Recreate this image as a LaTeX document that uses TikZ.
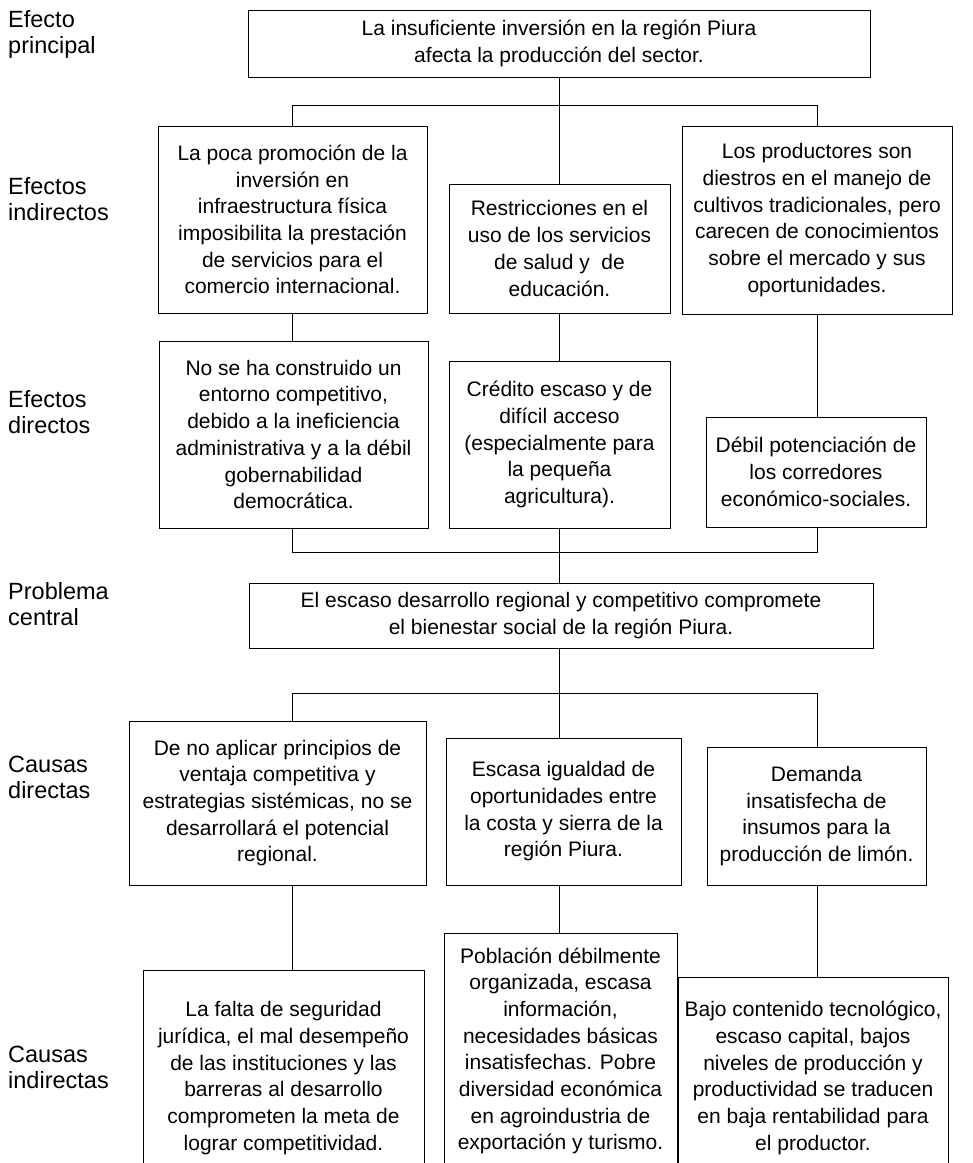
\documentclass[tikz,border=0pt]{standalone}
\usepackage{fontspec}
\setmainfont{Liberation Sans}
\begin{document}
\begin{tikzpicture}[x=1pt,y=-1pt,
  box/.style={draw=black, line width=1pt, inner sep=0pt, align=center,
    font=\fontsize{21pt}{26.7pt}\selectfont},
  txt/.style={inner sep=0pt, align=center, font=\fontsize{21pt}{26.7pt}\selectfont},
  lbl/.style={inner sep=0pt, anchor=west, align=left, font=\fontsize{23.5pt}{26pt}\selectfont},
  conn/.style={draw=black, line width=1pt}]
\useasboundingbox (0,0) rectangle (973,1163);

% left labels
\node[lbl] (L1) at (8,34) {Efecto\\principal};
\node[lbl] (L2) at (8,199) {Efectos\\indirectos};
\node[lbl] (L3) at (8,412) {Efectos\\directos};
\node[lbl] (L4) at (8,604) {Problema\\central};
\node[lbl] (L5) at (8,777) {Causas\\directas};
\node[lbl] (L6) at (8,1067) {Causas\\indirectas};

% main effect
\node[box, minimum width=622pt, minimum height=67pt] (P) at (559,43.5)
  {La insuficiente inversión en la región Piura\\afecta la producción del sector.};

% indirect effects
\node[box, minimum width=269pt, minimum height=187pt] (EI1) at (292.5,219.5)
  {La poca promoción de la\\inversión en\\infraestructura física\\imposibilita la prestación\\de servicios para el\\comercio internacional.};
\node[box, minimum width=221pt, minimum height=129pt] (EI2) at (559.5,248.5)
  {Restricciones en el\\uso de los servicios\\de salud y~ de\\educación.};
\node[box, minimum width=270pt, minimum height=188pt] (EI3) at (817,220)
  {Los productores son\\diestros en el manejo de\\cultivos tradicionales, pero\\carecen de conocimientos\\sobre el mercado y sus\\oportunidades.};

% direct effects
\node[box, minimum width=269pt, minimum height=187pt] (ED1) at (293.5,434.5)
  {No se ha construido un\\entorno competitivo,\\debido a la ineficiencia\\administrativa y a la débil\\gobernabilidad\\democrática.};
\node[box, minimum width=221pt, minimum height=167pt] (ED2) at (559.5,444.5)
  {Crédito escaso y de\\difícil acceso\\(especialmente para\\la pequeña\\agricultura).};
\node[box, minimum width=220pt, minimum height=110pt] (ED3) at (816,472)
  {Débil potenciación de\\los corredores\\económico-sociales.};

% central problem
\node[box, minimum width=624pt, minimum height=65pt] (PC) at (561,615.5)
  {El escaso desarrollo regional y competitivo compromete\\el bienestar social de la región Piura.};

% direct causes
\node[box, minimum width=297pt, minimum height=164pt] (CD1) at (277.5,803)
  {De no aplicar principios de\\ventaja competitiva y\\estrategias sistémicas, no se\\desarrollará el potencial\\regional.};
\node[box, minimum width=235pt, minimum height=147pt] (CD2) at (563.5,811.5)
  {Escasa igualdad de\\oportunidades entre\\la costa y sierra de la\\región Piura.};
\node[box, minimum width=219pt, minimum height=138pt] (CD3) at (816.5,816)
  {Demanda\\insatisfecha de\\insumos para la\\producción de limón.};

% indirect causes (boxes run past the lower edge)
\node[box, minimum width=281pt, minimum height=240pt] (CI1) at (283.5,1090) {};
\node[box, minimum width=233pt, minimum height=277pt] (CI2) at (560.5,1071.5) {};
\node[box, minimum width=270pt, minimum height=233pt] (CI3) at (813,1093.5) {};
\node[txt] (CI1t) at (283.5,1078)
  {\rule{0pt}{16pt}La falta de seguridad\\jurídica, el mal desempeño\\de las instituciones y las\\barreras al desarrollo\\comprometen la meta de\\lograr competitividad.\rule[-5pt]{0pt}{5pt}};
\node[txt] (CI2t) at (560.5,1051)
  {\rule{0pt}{16pt}Población débilmente\\organizada, escasa\\información,\\necesidades básicas\\insatisfechas. Pobre\\diversidad económica\\en agroindustria de\\exportación y turismo.\rule[-5pt]{0pt}{5pt}};
\node[txt] (CI3t) at (813,1078)
  {\rule{0pt}{16pt}Bajo contenido tecnológico,\\escaso capital, bajos\\niveles de producción y\\productividad se traducen\\en baja rentabilidad para\\el productor.\rule[-5pt]{0pt}{5pt}};

% bus coordinates
\coordinate (bl1) at (292,105);
\coordinate (br1) at (817,105);
\coordinate (bl2) at (292,552);
\coordinate (br2) at (817,552);
\coordinate (bl3) at (292,693);
\coordinate (m3) at (559,693);
\coordinate (br3) at (817,693);

% connectors: main effect to indirect effects
\draw[conn] (P.south) -- (m3 |- EI2.north);
\draw[conn] (bl1 |- EI1.north) -- (bl1) -- (br1) -- (br1 |- EI3.north);
% indirect to direct effects
\draw[conn] (bl1 |- EI1.south) -- (bl1 |- ED1.north);
\draw[conn] (m3 |- EI2.south) -- (m3 |- ED2.north);
\draw[conn] (br1 |- EI3.south) -- (br1 |- ED3.north);
% direct effects to central problem
\draw[conn] (bl2 |- ED1.south) -- (bl2) -- (br2) -- (br2 |- ED3.south);
\draw[conn] (m3 |- ED2.south) -- (m3 |- PC.north);
% central problem to direct causes
\draw[conn] (m3 |- PC.south) -- (m3 |- CD2.north);
\draw[conn] (bl3 |- CD1.north) -- (bl3) -- (br3) -- (br3 |- CD3.north);
% direct to indirect causes
\draw[conn] (bl3 |- CD1.south) -- (bl3 |- CI1.north);
\draw[conn] (m3 |- CD2.south) -- (m3 |- CI2.north);
\draw[conn] (br3 |- CD3.south) -- (br3 |- CI3.north);
\end{tikzpicture}
\end{document}
